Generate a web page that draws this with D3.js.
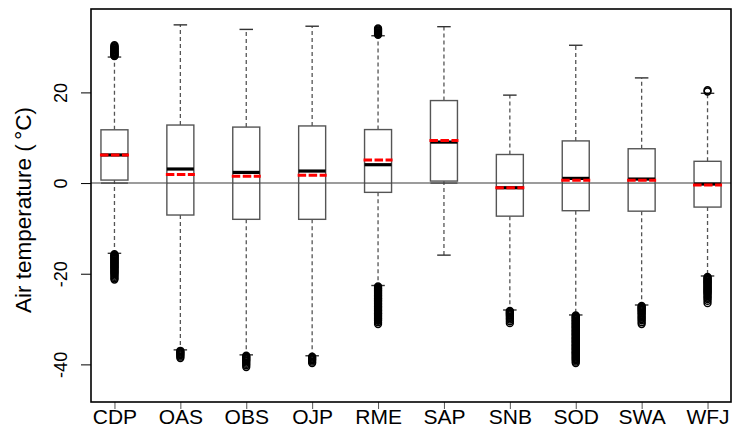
<!DOCTYPE html>
<html lang="en">
<head>
    <meta charset="UTF-8">
    <script src="https://d3js.org/d3.v7.min.js"></script>
    <title>Air temperature boxplots</title>
    <style>
        body { margin: 0; background: #fff; }
        svg { display: block; font-family: "Liberation Sans", Arial, sans-serif; }
    </style>
</head>
<body>
    <div id="chart"></div>
    <script>
        // Stations and box statistics (°C)
        const stations = ["CDP", "OAS", "OBS", "OJP", "RME", "SAP", "SNB", "SOD", "SWA", "WFJ"];
        const whiskerLow = [-15.5, -36.8, -37.9, -38.1, -22.6, -15.9, -28.0, -29.1, -26.9, -20.5];
        const q1 = [0.66, -7.05, -8.0, -8.0, -2.05, 0.44, -7.3, -6.1, -6.2, -5.3];
        const medians = [6.2, 3.1, 2.35, 2.65, 4.05, 9.04, -1.03, 1.03, 0.88, -0.22];
        const means = [6.2, 1.9, 1.5, 1.75, 5.07, 9.4, -1.03, 0.6, 0.6, -0.44];
        const q3 = [11.75, 12.8, 12.35, 12.6, 11.8, 18.2, 6.3, 9.3, 7.57, 4.8];
        const whiskerHigh = [27.8, 34.9, 33.9, 34.6, 32.5, 34.5, 19.4, 30.4, 23.2, 19.8];

        // Outliers per station (dense columns in the figure)
        const outliers = [
            [28.0, 28.1, 28.3, 28.4, 28.6, 28.7, 28.9, 29.0, 29.2, 29.4, 29.5, 29.7, 29.8, 30.0, 30.2, 30.4,
             -15.7, -15.9, -16.0, -16.2, -16.3, -16.5, -16.7, -16.8, -17.0, -17.2, -17.3, -17.5,
             -17.7, -17.8, -18.0, -18.2, -18.4, -18.5, -18.7, -18.9, -19.1, -19.3, -19.5, -19.7,
             -19.9, -20.1, -20.4, -20.7, -21.0, -21.3],
            [-37.0, -37.2, -37.4, -37.6, -37.8, -38.0, -38.3, -38.6],
            [-38.1, -38.3, -38.5, -38.7, -38.9, -39.1, -39.3, -39.6, -39.9, -40.2, -40.6],
            [-38.3, -38.5, -38.7, -38.9, -39.1, -39.4, -39.7],
            [32.7, 32.9, 33.1, 33.3, 33.5, 33.7, 33.9, 34.1,
             -22.8, -23.0, -23.2, -23.3, -23.5, -23.7, -23.8, -24.0, -24.2, -24.3, -24.5, -24.7,
             -24.8, -25.0, -25.2, -25.4, -25.5, -25.7, -25.9, -26.0, -26.2, -26.4, -26.6, -26.7,
             -26.9, -27.1, -27.3, -27.4, -27.6, -27.8, -28.0, -28.1, -28.3, -28.5, -28.7, -28.8,
             -29.0, -29.2, -29.4, -29.6, -29.8, -30.0, -30.2, -30.4, -30.7, -31.1],
            [],
            [-28.2, -28.4, -28.6, -28.8, -29.0, -29.2, -29.5, -29.8, -30.1, -30.5, -30.9],
            [-29.2, -29.4, -29.6, -29.7, -29.9, -30.1, -30.3, -30.4, -30.6, -30.8, -31.0, -31.1,
             -31.3, -31.5, -31.7, -31.8, -32.0, -32.2, -32.4, -32.6, -32.7, -32.9, -33.1, -33.3,
             -33.4, -33.6, -33.8, -34.0, -34.2, -34.3, -34.5, -34.7, -34.9, -35.0, -35.2, -35.4,
             -35.6, -35.8, -35.9, -36.1, -36.3, -36.5, -36.6, -36.8, -37.0, -37.2, -37.4, -37.5,
             -37.7, -37.9, -38.1, -38.3, -38.5, -38.7, -38.9, -39.1, -39.4, -39.7],
            [-27.1, -27.3, -27.5, -27.7, -27.9, -28.1, -28.3, -28.6, -28.8, -29.1, -29.4, -29.7,
             -30.0, -30.3, -30.7, -31.1],
            [20.2, 20.5,
             -20.7, -20.9, -21.1, -21.3, -21.5, -21.7, -21.8, -22.0, -22.2, -22.4, -22.6, -22.8,
             -23.0, -23.2, -23.4, -23.6, -23.8, -24.0, -24.2, -24.4, -24.7, -25.0, -25.3, -25.6,
             -26.0, -26.5]
        ];

        const yTicks = [-40, -20, 0, 20];

        const width = 732, height = 432;
        const margin = { top: 9, right: 1, bottom: 30, left: 91 };
        const plotW = width - margin.left - margin.right;
        const plotH = height - margin.top - margin.bottom;

        const svg = d3.select("#chart").append("svg")
            .attr("width", width)
            .attr("height", height);

        const x = d3.scalePoint()
            .domain(stations)
            .range([margin.left, margin.left + plotW])
            .padding(0.356);

        const y = d3.scaleLinear()
            .domain([-48.3, 38.4])
            .range([margin.top + plotH, margin.top]);

        const boxW = 27;
        const capW = boxW / 2;
        const grey = "#555";

        // zero line
        svg.append("line")
            .attr("x1", margin.left).attr("x2", margin.left + plotW)
            .attr("y1", y(0)).attr("y2", y(0))
            .attr("stroke", "#3a3a3a").attr("stroke-width", 1.1);

        const groups = svg.selectAll("g.box")
            .data(stations)
            .enter()
            .append("g")
            .attr("class", "box")
            .attr("transform", d => `translate(${x(d)},0)`);

        // whiskers
        groups.append("line")
            .attr("y1", (d, i) => y(q3[i])).attr("y2", (d, i) => y(whiskerHigh[i]))
            .attr("stroke", grey).attr("stroke-width", 1.3).attr("stroke-dasharray", "4,3");
        groups.append("line")
            .attr("y1", (d, i) => y(q1[i])).attr("y2", (d, i) => y(whiskerLow[i]))
            .attr("stroke", grey).attr("stroke-width", 1.3).attr("stroke-dasharray", "4,3");

        // caps
        groups.append("line")
            .attr("x1", -capW / 2).attr("x2", capW / 2)
            .attr("y1", (d, i) => y(whiskerHigh[i])).attr("y2", (d, i) => y(whiskerHigh[i]))
            .attr("stroke", "#333").attr("stroke-width", 1.4);
        groups.append("line")
            .attr("x1", -capW / 2).attr("x2", capW / 2)
            .attr("y1", (d, i) => y(whiskerLow[i])).attr("y2", (d, i) => y(whiskerLow[i]))
            .attr("stroke", "#333").attr("stroke-width", 1.4);

        // boxes
        groups.append("rect")
            .attr("x", -boxW / 2)
            .attr("width", boxW)
            .attr("y", (d, i) => y(q3[i]))
            .attr("height", (d, i) => y(q1[i]) - y(q3[i]))
            .attr("fill", "#fff")
            .attr("stroke", grey)
            .attr("stroke-width", 1.4);

        // zero line over the boxes, as in the figure
        groups.append("line")
            .attr("x1", -boxW / 2).attr("x2", boxW / 2)
            .attr("y1", y(0)).attr("y2", y(0))
            .attr("stroke", "#3a3a3a").attr("stroke-width", 1.1);

        // medians
        groups.append("line")
            .attr("x1", -boxW / 2).attr("x2", boxW / 2)
            .attr("y1", (d, i) => y(medians[i])).attr("y2", (d, i) => y(medians[i]))
            .attr("stroke", "#000").attr("stroke-width", 3.2);

        // means
        groups.append("line")
            .attr("x1", -boxW / 2 - 1).attr("x2", boxW / 2 + 1)
            .attr("y1", (d, i) => y(means[i])).attr("y2", (d, i) => y(means[i]))
            .attr("stroke", "#ff0000").attr("stroke-width", 3)
            .attr("stroke-dasharray", "8.5,2.5");

        // outliers
        groups.selectAll("circle")
            .data((d, i) => outliers[i])
            .enter()
            .append("circle")
            .attr("cx", 0)
            .attr("cy", v => y(v))
            .attr("r", 3.4)
            .attr("fill", "none")
            .attr("stroke", "#000")
            .attr("stroke-width", 1.5);

        // axes
        const yAxis = svg.append("g")
            .attr("transform", `translate(${margin.left},0)`)
            .call(d3.axisLeft(y).tickValues(yTicks).tickSize(10).tickFormat(d3.format("d")));
        yAxis.select(".domain").remove();
        yAxis.selectAll(".tick line").attr("stroke", "#000");
        yAxis.selectAll(".tick text")
            .attr("x", 0).attr("y", 0).attr("dy", null)
            .attr("transform", "translate(-24.5,0) rotate(-90)")
            .attr("text-anchor", "middle")
            .style("font-size", "18px")
            .attr("fill", "#000")
            .text(d => d < 0 ? "-" + Math.abs(d) : d);

        const xAxis = svg.append("g")
            .attr("transform", `translate(0,${margin.top + plotH})`)
            .call(d3.axisBottom(x).tickSize(7));
        xAxis.select(".domain").remove();
        xAxis.selectAll(".tick line").attr("stroke", "#555");
        xAxis.selectAll(".tick text")
            .attr("y", 0).attr("dy", null)
            .attr("transform", "translate(0,21.5)")
            .style("font-size", "21px")
            .attr("fill", "#000");

        // frame
        svg.append("rect")
            .attr("x", margin.left).attr("y", margin.top)
            .attr("width", plotW).attr("height", plotH)
            .attr("fill", "none")
            .attr("stroke", "#000")
            .attr("stroke-width", 1.6);

        // y label
        svg.append("text")
            .attr("transform", "translate(30.5,210) rotate(-90)")
            .attr("text-anchor", "middle")
            .style("font-size", "22.5px")
            .text("Air temperature (\u2009\u00B0C)");
    </script>
</body>
</html>
